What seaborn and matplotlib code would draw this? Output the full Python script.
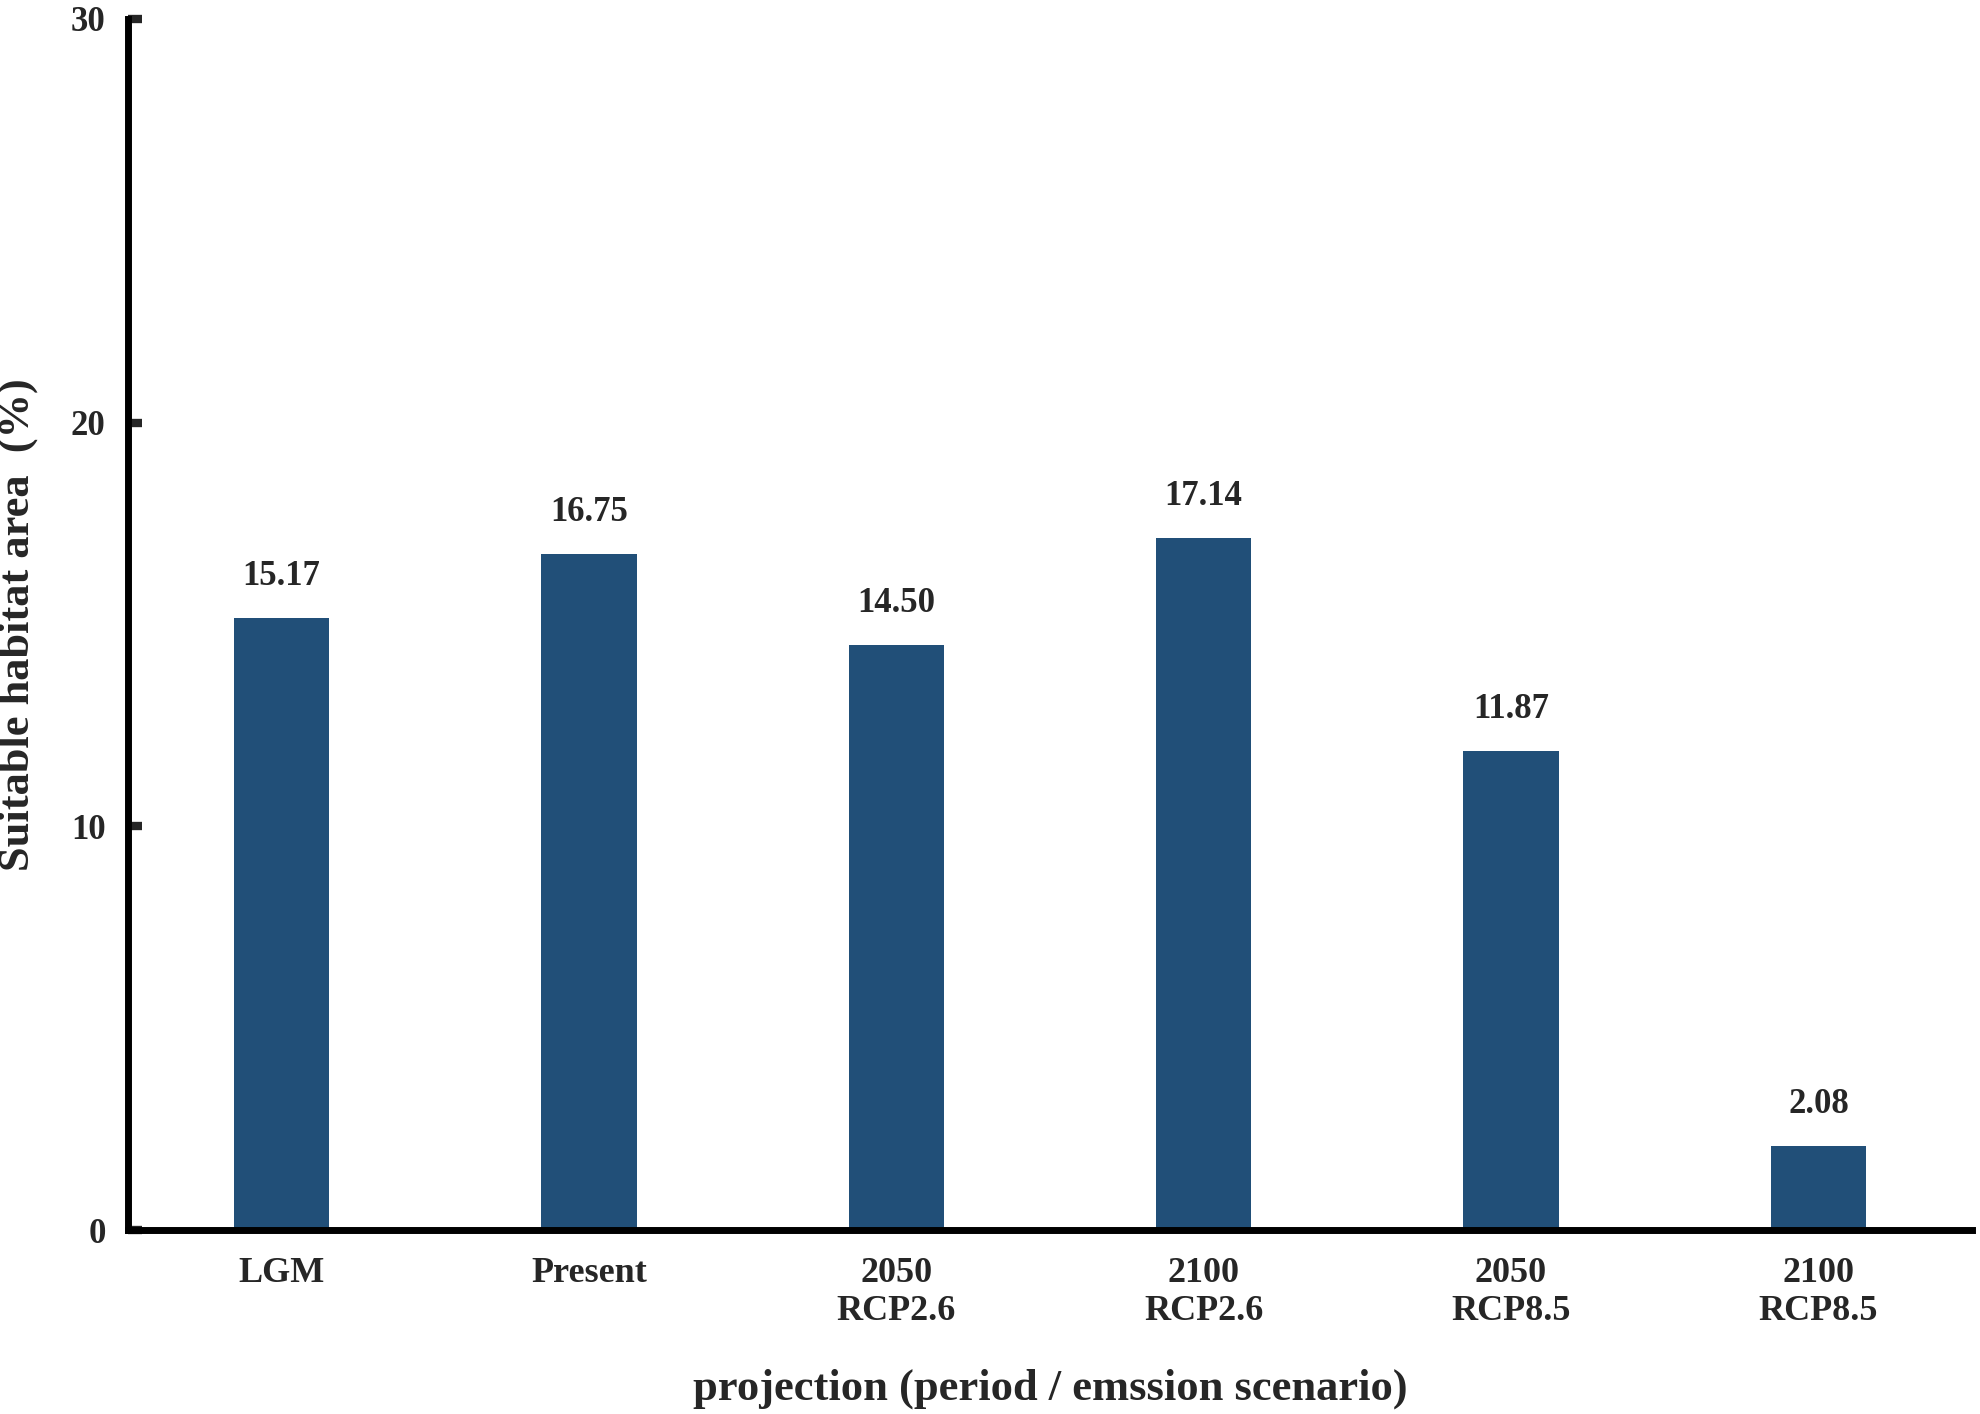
import matplotlib
matplotlib.use("Agg")
import matplotlib.pyplot as plt
import seaborn as sns
import pandas as pd

categories = ["LGM", "Present", "2050\nRCP2.6", "2100\nRCP2.6", "2050\nRCP8.5", "2100\nRCP8.5"]
values = [15.17, 16.75, 14.50, 17.14, 11.87, 2.08]
value_labels = ["15.17", "16.75", "14.50", "17.14", "11.87", "2.08"]
y_ticks = [0, 10, 20, 30]

sns.set_style("ticks")
plt.rcParams["font.family"] = ["Liberation Serif", "DejaVu Serif"]
plt.rcParams["font.weight"] = "bold"

df = pd.DataFrame({"projection": categories, "area": values})

fig = plt.figure(figsize=(19.8, 14.14), dpi=100)
ax = fig.add_axes([0.0646, 0.130, 0.9314, 0.8566])

sns.barplot(data=df, x="projection", y="area", color="#214F78", saturation=1,
            width=0.31, linewidth=0, ax=ax)

ax.set_xlim(-0.5, 5.5)
ax.set_ylim(0, 30)
ax.set_yticks(y_ticks)
ax.set_yticklabels([str(t) for t in y_ticks])
ax.tick_params(axis="y", direction="in", length=10, width=6, pad=16, labelsize=25)
ax.tick_params(axis="x", length=0, pad=19, labelsize=26)
for lab in ax.get_xticklabels() + ax.get_yticklabels():
    lab.set_fontweight("bold")

for s in ["top", "right"]:
    ax.spines[s].set_visible(False)
for s in ["left", "bottom"]:
    ax.spines[s].set_linewidth(5)
    ax.spines[s].set_color("black")

ax.bar_label(ax.containers[0], labels=value_labels, padding=18,
             fontsize=25, fontweight="bold")

ax.set_xlabel("projection (period / emssion scenario)", fontsize=32, fontweight="bold")
ax.set_ylabel("Suitable habitat area  (%)", fontsize=32, fontweight="bold")
ax.xaxis.set_label_coords(0.5, -0.114)
ax.yaxis.set_label_coords(-0.049, 0.5)

fig.savefig("out.png", dpi=100)
